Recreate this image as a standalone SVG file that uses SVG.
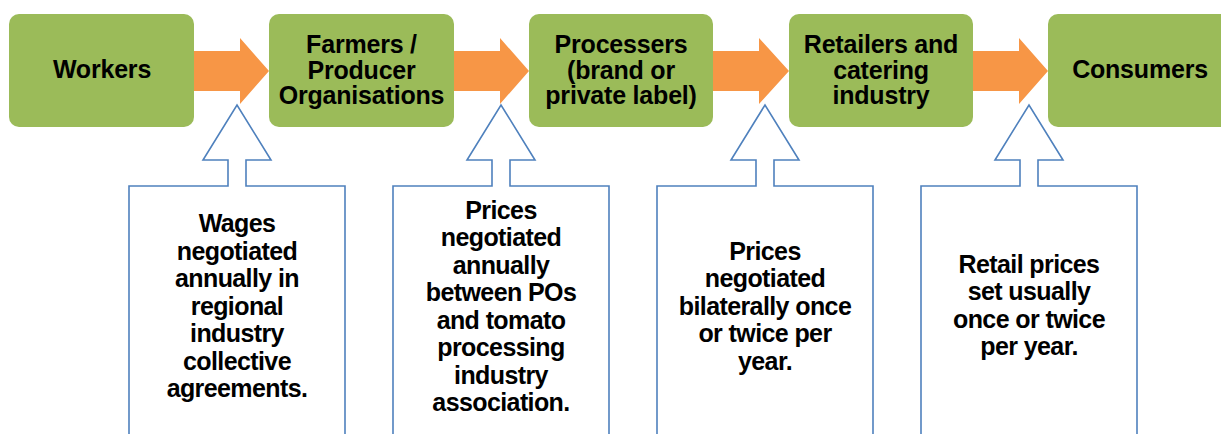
<svg xmlns="http://www.w3.org/2000/svg" width="1221" height="434" viewBox="0 0 1221 434">
<style>
.box{fill:#9BBB59;}
.flow{fill:#F79646;}
.call{fill:#FFFFFF;stroke:#4F81BD;stroke-width:1.6;}
text{font-family:"Liberation Sans",Arial,sans-serif;font-weight:bold;font-size:25px;fill:#000;text-anchor:middle;}
.bt{letter-spacing:-0.2px;}
.ct{letter-spacing:-0.6px;}
</style>
<rect width="1221" height="434" fill="#FFFFFF"/>
<g id="connectors">
<path class="flow" d="M194,51 H240 V38 L269,71 L240,104 V91 H194 Z"/>
<path class="flow" d="M454,51 H500 V38 L529,71 L500,104 V91 H454 Z"/>
<path class="flow" d="M713,51 H759 V38 L789,71 L759,104 V91 H713 Z"/>
<path class="flow" d="M973,51 H1019 V38 L1048,71 L1019,104 V91 H973 Z"/>
</g>
<g id="workers" class="bt">
<rect class="box" x="9" y="14" width="185" height="113" rx="10"/>
<text x="102" y="78">Workers</text>
</g>
<g id="farmers" class="bt">
<rect class="box" x="269" y="14" width="185" height="113" rx="10"/>
<text x="361.5" y="53">Farmers /</text>
<text x="361.5" y="78.5">Producer</text>
<text x="361.5" y="104">Organisations</text>
</g>
<g id="processers" class="bt">
<rect class="box" x="529" y="14" width="184" height="113" rx="10"/>
<text x="621" y="53">Processers</text>
<text x="621" y="78.5">(brand or</text>
<text x="621" y="104">private label)</text>
</g>
<g id="retailers" class="bt">
<rect class="box" x="789" y="14" width="184" height="113" rx="10"/>
<text x="881" y="53">Retailers and</text>
<text x="881" y="78.5">catering</text>
<text x="881" y="104">industry</text>
</g>
<g id="consumers" class="bt">
<rect class="box" x="1048" y="14" width="185" height="113" rx="10"/>
<text x="1140" y="78">Consumers</text>
</g>
<g id="callout-wages" class="ct">
<path class="call" d="M129,440 V186 H228 V160 H203 L237,105 L271,160 H246 V186 H345 V440"/>
<text x="237" y="232">Wages</text>
<text x="237" y="259.5">negotiated</text>
<text x="237" y="287">annually in</text>
<text x="237" y="314.5">regional</text>
<text x="237" y="342">industry</text>
<text x="237" y="369.5">collective</text>
<text x="237" y="397">agreements.</text>
</g>
<g id="callout-pos" class="ct">
<path class="call" d="M393,440 V186 H492 V160 H467 L501,105 L535,160 H510 V186 H609 V440"/>
<text x="501" y="218.5">Prices</text>
<text x="501" y="246">negotiated</text>
<text x="501" y="273.5">annually</text>
<text x="501" y="301">between POs</text>
<text x="501" y="328.5">and tomato</text>
<text x="501" y="356">processing</text>
<text x="501" y="383.5">industry</text>
<text x="501" y="411">association.</text>
</g>
<g id="callout-bilateral" class="ct">
<path class="call" d="M657,440 V186 H756 V160 H731 L765,105 L799,160 H774 V186 H873 V440"/>
<text x="765" y="259.5">Prices</text>
<text x="765" y="287">negotiated</text>
<text x="765" y="314.5">bilaterally once</text>
<text x="765" y="342">or twice per</text>
<text x="765" y="369.5">year.</text>
</g>
<g id="callout-retail" class="ct">
<path class="call" d="M921,440 V186 H1020 V160 H995 L1029,105 L1063,160 H1038 V186 H1137 V440"/>
<text x="1029" y="272.5">Retail prices</text>
<text x="1029" y="300">set usually</text>
<text x="1029" y="327.5">once or twice</text>
<text x="1029" y="355">per year.</text>
</g>
</svg>
